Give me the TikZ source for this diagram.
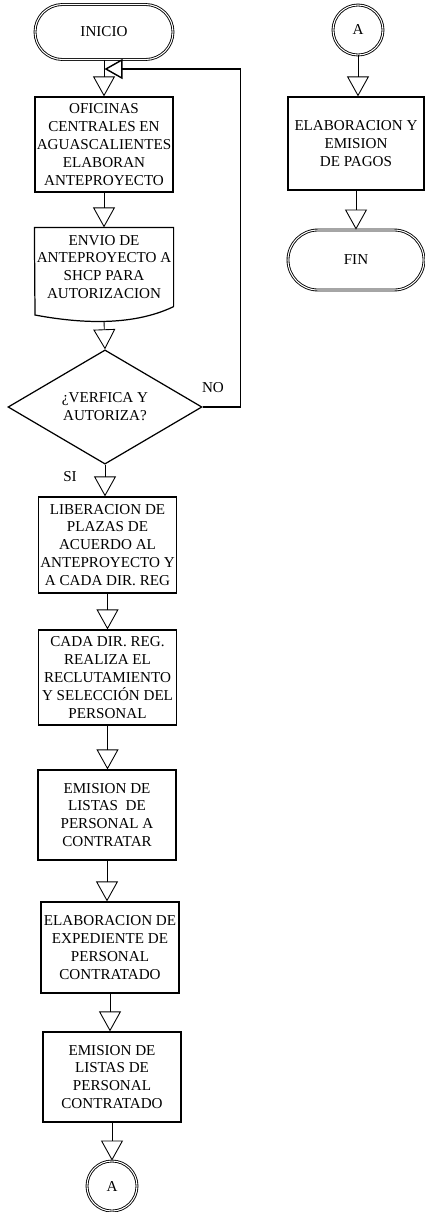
\documentclass[tikz,border=0pt]{standalone}
\usepackage{fontspec}
\setmainfont{Liberation Serif}
\usetikzlibrary{shapes.geometric,arrows.meta}
\tikzset{
  paso/.style={draw=black, line width=0.7pt, minimum width=2.76cm, minimum height=1.9cm, align=center, inner sep=0pt, font=\fontsize{8.6}{10.2}\selectfont},
  termino/.style={paso, rounded corners=0.55cm, minimum height=1.1cm, double, double distance=0.6pt, line width=0.5pt},
  decision/.style={diamond, draw=black, line width=0.7pt, minimum width=3.88cm, minimum height=1.8cm, align=center, inner sep=0pt, font=\fontsize{8.6}{10.2}\selectfont},
  conector/.style={circle, draw=black, double, double distance=0.6pt, line width=0.5pt, minimum size=1cm, inner sep=0pt, font=\fontsize{8.6}{10.2}\selectfont},
  etiqueta/.style={font=\fontsize{8.6}{10.2}\selectfont},
  flecha/.style={draw=black, line width=0.5pt, -{Triangle[open, width=0.44cm, length=0.4cm]}},
  regreso/.style={draw=black, line width=0.8pt, -{Triangle[open, width=0.4cm, length=0.36cm]}}
}

\begin{document}
\begin{tikzpicture}
  \useasboundingbox (0,0) rectangle (8.5,-24.24);
  % columna izquierda
  \node[termino] (inicio) at (2.08,-0.64) {INICIO};
  \node[paso] (ofic) at (2.08,-2.89) {OFICINAS\\CENTRALES EN\\AGUASCALIENTES\\ELABORAN\\ANTEPROYECTO};
  \node[paso, draw=none, minimum height=1.56cm] (envio) at (2.08,-5.34) {ENVIO DE\\ANTEPROYECTO A\\SHCP PARA\\AUTORIZACION};
  \draw[line width=0.7pt] (envio.south east) -- (envio.north east) -- (envio.north west) -- (0.7,-6.30)
    .. controls (1.5,-6.45) and (2.6,-6.55) .. (envio.south east);
  \coordinate (envio-bot) at (2.08,-6.42);
  \node[decision] (dec) at (2.10,-8.14) {¿VERFICA Y\\AUTORIZA?};
  \node[paso, minimum height=1.92cm] (lib) at (2.15,-10.9) {LIBERACION DE\\PLAZAS DE\\ACUERDO AL\\ANTEPROYECTO Y\\A CADA DIR. REG};
  \node[paso] (cada) at (2.15,-13.55) {CADA DIR. REG.\\REALIZA EL\\RECLUTAMIENTO\\Y SELECCIÓN DEL\\PERSONAL};
  \node[paso, minimum height=1.8cm] (emis) at (2.14,-16.3) {EMISION DE\\LISTAS~ DE\\PERSONAL A\\CONTRATAR};
  \node[paso, minimum height=1.82cm] (expd) at (2.2,-18.95) {ELABORACION DE\\EXPEDIENTE DE\\PERSONAL\\CONTRATADO};
  \node[paso, minimum height=1.8cm] (emcon) at (2.24,-21.54) {EMISION DE\\LISTAS DE\\PERSONAL\\CONTRATADO};
  \node[conector] (conA) at (2.24,-23.72) {A};
  % columna derecha
  \node[conector] (conA2) at (7.16,-0.6) {A};
  \node[paso, minimum height=1.86cm, minimum width=2.72cm] (pagos) at (7.12,-2.87) {ELABORACION Y\\EMISION\\DE PAGOS};
  \node[termino, minimum width=2.72cm, minimum height=1.2cm, rounded corners=0.6cm] (fin) at (7.12,-5.2) {FIN};
  % etiquetas
  \node[etiqueta] (no) at (4.26,-7.76) {NO};
  \node[etiqueta] (si) at (1.4,-9.54) {SI};
  % conectores
  \coordinate (lazo) at (2.09,-1.38);
  \draw[flecha] (inicio) -- (ofic);
  \draw[flecha] (ofic) -- (envio);
  \draw[flecha] (envio-bot) -- (dec.north);
  \draw[regreso] (dec.east) -- ++(0.76,0) |- (lazo);
  \draw[flecha] (dec.south) -- (dec.south |- lib.north);
  \draw[flecha] (lib.south) -- (lib.south |- cada.north);
  \draw[flecha] (cada.south) -- (cada.south |- emis.north);
  \draw[flecha] (emis.south) -- (emis.south |- expd.north);
  \draw[flecha] (expd.south) -- (expd.south |- emcon.north);
  \draw[flecha] (emcon.south) -- (emcon.south |- conA.north);
  \draw[flecha] (conA2.south) -- (conA2.south |- pagos.north);
  \draw[flecha] (pagos.south) -- (pagos.south |- fin.north);
\end{tikzpicture}
\end{document}
